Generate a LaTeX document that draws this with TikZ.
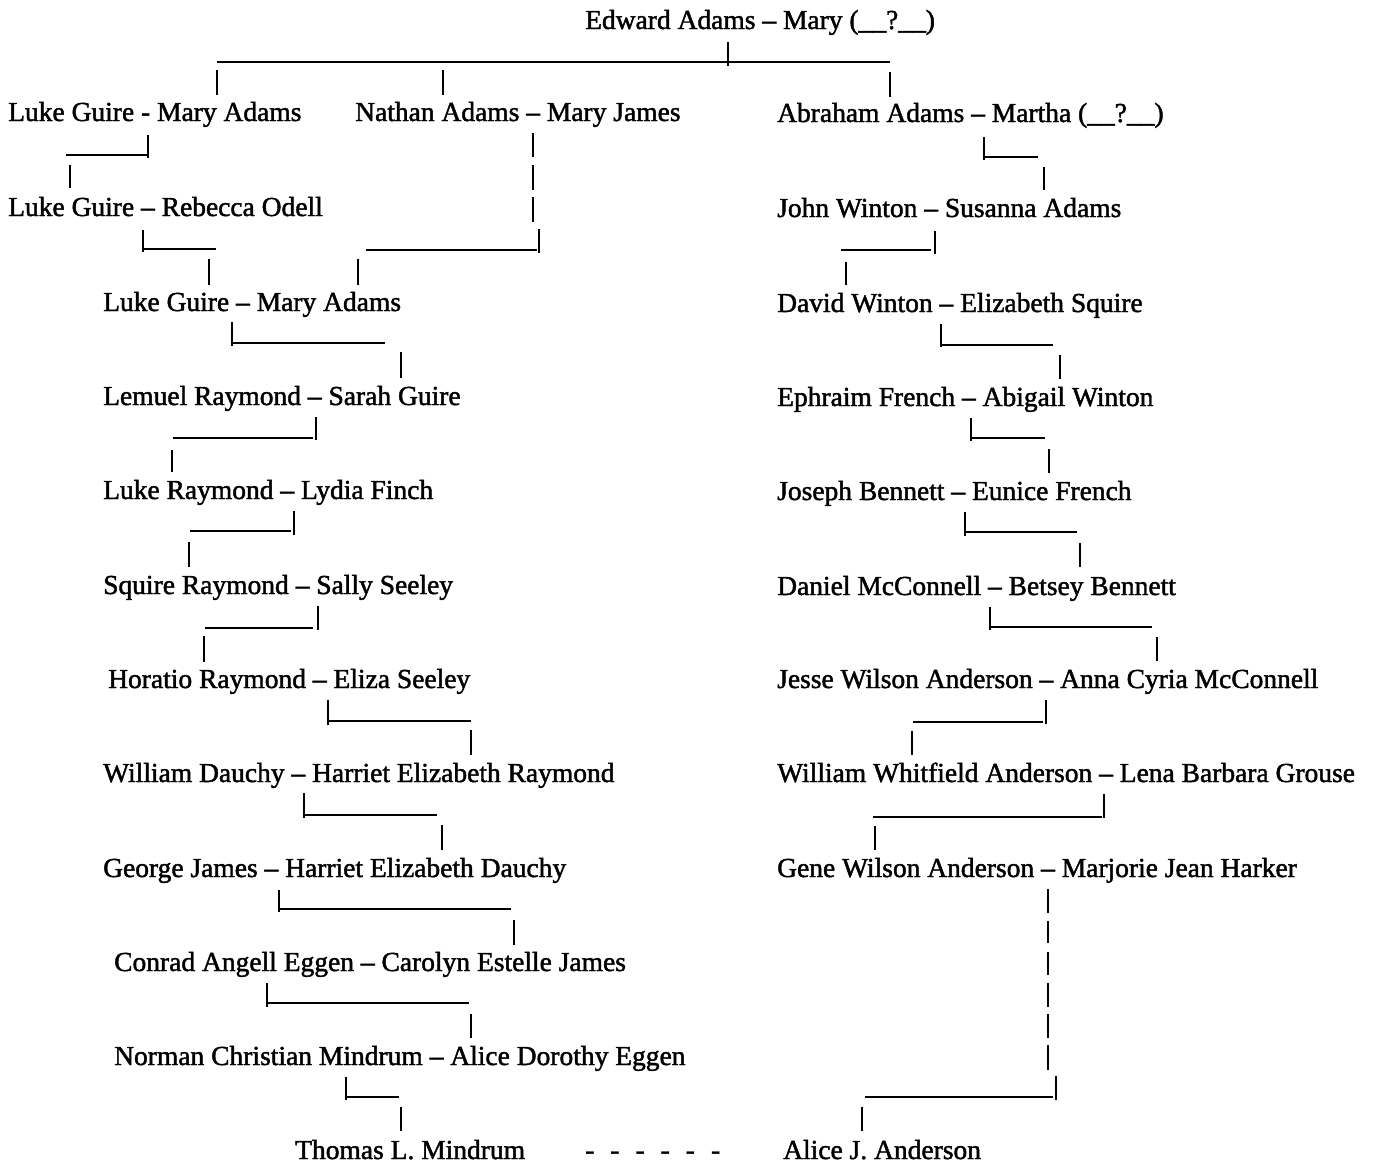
\documentclass[tikz,border=0pt]{standalone}
\usepackage{fontspec}
\setmainfont{Liberation Serif}[FakeBold=1.6]
\begin{document}
\begin{tikzpicture}[x=1pt,y=-1pt,
  ln/.style={line width=2.2pt,line cap=butt},
  nm/.style={anchor=base west,inner sep=0pt,font=\fontsize{27.5}{32}\selectfont}]
\useasboundingbox[fill=white] (0,0) rectangle (1377,1163);
% ---------- names ----------
\node[nm] (edward) at (585,29) {Edward Adams – Mary (\_\_?\_\_)};
\node[nm] (lg1) at (8,121) {Luke Guire - Mary Adams};
\node[nm] (nathan) at (355,121) {Nathan Adams – Mary James};
\node[nm] (abraham) at (777,122) {Abraham Adams – Martha (\_\_?\_\_)};
\node[nm] (lg2) at (8,216) {Luke Guire – Rebecca Odell};
\node[nm] (john) at (777,217) {John Winton – Susanna Adams};
\node[nm] (lg3) at (103,311) {Luke Guire – Mary Adams};
\node[nm] (david) at (777,312) {David Winton – Elizabeth Squire};
\node[nm] (lemuel) at (103,405) {Lemuel Raymond – Sarah Guire};
\node[nm] (ephraim) at (777,406) {Ephraim French – Abigail Winton};
\node[nm] (lraymond) at (103,499) {Luke Raymond – Lydia Finch};
\node[nm] (joseph) at (777,500) {Joseph Bennett – Eunice French};
\node[nm] (squire) at (103,594) {Squire Raymond – Sally Seeley};
\node[nm] (daniel) at (777,595) {Daniel McConnell – Betsey Bennett};
\node[nm] (horatio) at (108,688) {Horatio Raymond – Eliza Seeley};
\node[nm] (jesse) at (777,688) {Jesse Wilson Anderson – Anna Cyria McConnell};
\node[nm] (wdauchy) at (103,782) {William Dauchy – Harriet Elizabeth Raymond};
\node[nm] (wwa) at (777,782) {William Whitfield Anderson – Lena Barbara Grouse};
\node[nm] (george) at (103,877) {George James – Harriet Elizabeth Dauchy};
\node[nm] (gene) at (777,877) {Gene Wilson Anderson – Marjorie Jean Harker};
\node[nm] (conrad) at (114,971) {Conrad Angell Eggen – Carolyn Estelle James};
\node[nm] (norman) at (114,1065) {Norman Christian Mindrum – Alice Dorothy Eggen};
\node[nm] (thomas) at (295,1159) {Thomas L. Mindrum};
\node[nm] (dashes) at (585,1159) {-\hskip16pt-\hskip16pt-\hskip16pt-\hskip16pt-\hskip16pt-};
\node[nm] (alice) at (783,1159) {Alice J. Anderson};
% ---------- top ----------
\draw[ln] (217,62) -- (890,62);
\draw[ln] (728,42) -- (728,66);
\draw[ln] (217,70) -- (217,95);
\draw[ln] (443,70) -- (443,95);
\draw[ln] (890,72) -- (890,97);
% ---------- left column ----------
\draw[ln] (66,155) -- (147,155);
\draw[ln] (148,135) -- (148,158);
\draw[ln] (70,165) -- (70,188);
\draw[ln] (533,133) -- (533,157);
\draw[ln] (533,165) -- (533,190);
\draw[ln] (533,197) -- (533,222);
\draw[ln] (366,250) -- (537,250);
\draw[ln] (539,229) -- (539,253);
\draw[ln] (358,259) -- (358,285);
\draw[ln] (143,230) -- (143,252);
\draw[ln] (143,249) -- (216,249);
\draw[ln] (209,259) -- (209,285);
\draw[ln] (232,322) -- (232,346);
\draw[ln] (232,343) -- (385,343);
\draw[ln] (401,352) -- (401,378);
\draw[ln] (173,438) -- (313,438);
\draw[ln] (316,417) -- (316,440);
\draw[ln] (172,450) -- (172,472);
\draw[ln] (190,531) -- (291,531);
\draw[ln] (294,511) -- (294,535);
\draw[ln] (189,542) -- (189,567);
\draw[ln] (205,628) -- (313,628);
\draw[ln] (318,606) -- (318,630);
\draw[ln] (204,636) -- (204,662);
\draw[ln] (328,700) -- (328,725);
\draw[ln] (328,721) -- (471,721);
\draw[ln] (471,730) -- (471,755);
\draw[ln] (304,793) -- (304,818);
\draw[ln] (304,815) -- (437,815);
\draw[ln] (442,825) -- (442,850);
\draw[ln] (279,890) -- (279,912);
\draw[ln] (279,909) -- (511,909);
\draw[ln] (514,920) -- (514,945);
\draw[ln] (267,983) -- (267,1007);
\draw[ln] (267,1003) -- (469,1003);
\draw[ln] (471,1014) -- (471,1038);
\draw[ln] (346,1077) -- (346,1100);
\draw[ln] (346,1097) -- (399,1097);
\draw[ln] (401,1107) -- (401,1131);
% ---------- right column ----------
\draw[ln] (984,137) -- (984,160);
\draw[ln] (984,157) -- (1038,157);
\draw[ln] (1044,167) -- (1044,190);
\draw[ln] (841,250) -- (931,250);
\draw[ln] (935,231) -- (935,254);
\draw[ln] (846,262) -- (846,285);
\draw[ln] (941,324) -- (941,347);
\draw[ln] (941,345) -- (1053,345);
\draw[ln] (1060,355) -- (1060,379);
\draw[ln] (971,418) -- (971,441);
\draw[ln] (971,438) -- (1045,438);
\draw[ln] (1049,449) -- (1049,473);
\draw[ln] (965,512) -- (965,536);
\draw[ln] (965,532) -- (1077,532);
\draw[ln] (1080,543) -- (1080,567);
\draw[ln] (990,607) -- (990,630);
\draw[ln] (990,627) -- (1152,627);
\draw[ln] (1157,637) -- (1157,661);
\draw[ln] (913,722) -- (1043,722);
\draw[ln] (1046,700) -- (1046,724);
\draw[ln] (912,731) -- (912,755);
\draw[ln] (873,817) -- (1102,817);
\draw[ln] (1104,794) -- (1104,818);
\draw[ln] (875,826) -- (875,850);
\draw[ln] (1048,889) -- (1048,913);
\draw[ln] (1048,921) -- (1048,943);
\draw[ln] (1048,952) -- (1048,975);
\draw[ln] (1048,983) -- (1048,1007);
\draw[ln] (1048,1014) -- (1048,1038);
\draw[ln] (1048,1045) -- (1048,1070);
\draw[ln] (865,1097) -- (1053,1097);
\draw[ln] (1056,1076) -- (1056,1100);
\draw[ln] (862,1107) -- (862,1131);
\end{tikzpicture}
\end{document}
